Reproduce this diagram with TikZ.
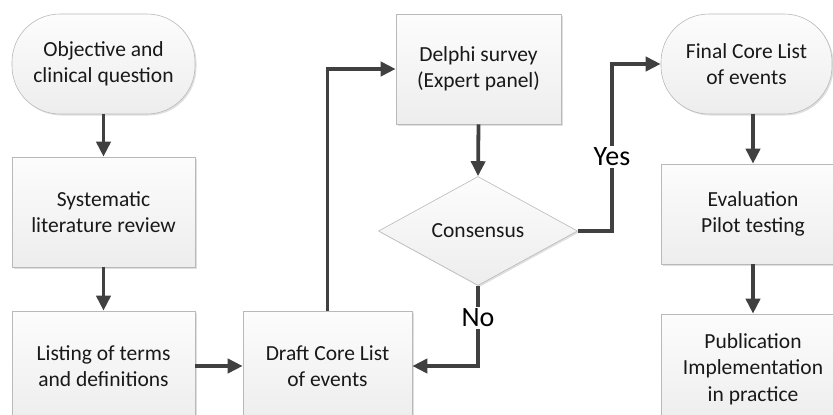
\documentclass[tikz,border=0pt]{standalone}
\usepackage{fontspec}
\setmainfont{Carlito}
\usetikzlibrary{shapes.geometric,arrows.meta,positioning,shadows}

\begin{document}
\begin{tikzpicture}[x=1pt, y=-1pt,
  base/.style={draw=gray!55, line width=0.6pt, top color=gray!2, bottom color=gray!14,
    drop shadow={shadow xshift=1.5pt, shadow yshift=-1.5pt, opacity=0.25, fill=gray},
    align=center, font=\fontsize{21.5}{26.5}\selectfont, text=black!90, inner sep=2pt},
  term/.style={base, rounded corners=48pt, minimum height=100pt},
  proc/.style={base, minimum height=110pt},
  dec/.style={base, diamond, minimum width=199pt, minimum height=109pt, inner sep=0pt},
  flow/.style={-{Triangle[length=15pt, width=14pt]}, draw=black!75, line width=3.8pt},
  lbl/.style={fill=white, inner sep=2pt, font=\fontsize{28}{32}\selectfont, text=black}
]
\useasboundingbox (0,0) rectangle (833,415);

% --- left column ---
\node[term, minimum width=183pt] (obj) at (103.5,64) {Objective and\\clinical question};
\node[proc, minimum width=183pt] (slr) at (103.5,212) {Systematic\\literature review};
\node[proc, minimum width=183pt] (lst) at (103.5,366) {Listing of terms\\and definitions};

% --- Delphi loop ---
\node[proc, minimum width=169pt] (draft) at (327.5,366) {Draft Core List\\of events};
\node[proc, minimum width=165pt] (delphi) at (478.5,69) {Delphi survey\\(Expert panel)};
\node[dec] (cons) at (478,231) {Consensus};

% --- right column ---
\node[term, minimum width=171pt] (final) at (746.5,64) {Final Core List\\of events};
\node[proc, minimum width=184pt, minimum height=100pt] (eval) at (753,214) {Evaluation\\Pilot testing};
\node[proc, minimum width=184pt] (pub) at (753,369) {Publication\\Implementation\\in practice};

% arrows
\draw[flow] (obj.south) -- (slr.north);
\draw[flow] (slr.south) -- (lst.north);
\draw[flow] (lst.east) -- (draft.west);
\draw[flow] (draft.north) |- (delphi.west);
\draw[flow] (delphi.south) -- (cons.north);
\draw[flow] (cons.east) -- ++(34,0) coordinate (yes) |- (final.west);
\draw[flow] (cons.south) |- (draft.east);
\draw[flow] (eval.north |- final.south) -- (eval.north);
\draw[flow] (eval.south) -- (pub.north);

% labels
\node[lbl] (yesl) at (612,157) {Yes};
\node[lbl] (nol) at (478,318) {No};
\end{tikzpicture}
\end{document}
